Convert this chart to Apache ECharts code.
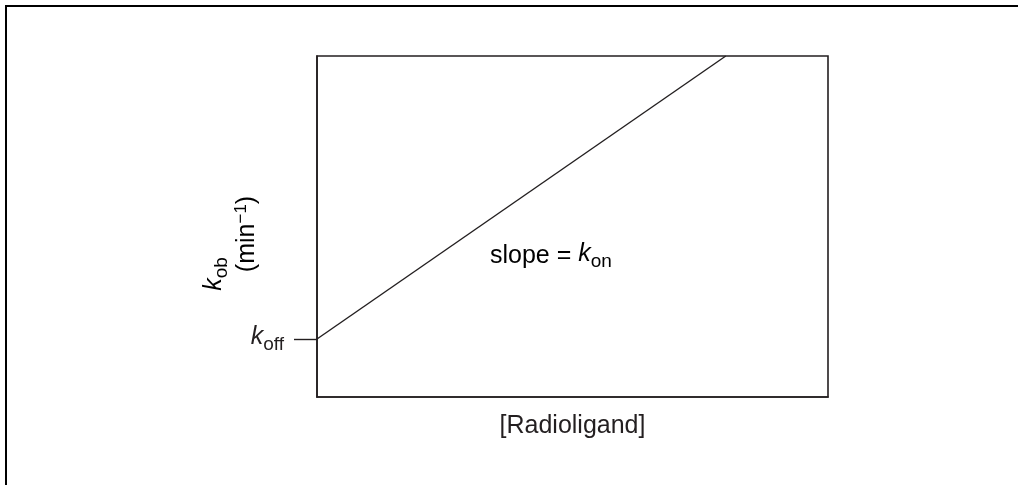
<!DOCTYPE html>
<html>
<head>
<meta charset="utf-8">
<script src="https://cdn.jsdelivr.net/npm/echarts@6/dist/echarts.min.js"></script>
<style>
  html, body { margin: 0; padding: 0; background: #fff; }
  #main { width: 1018px; height: 485px; }
</style>
</head>
<body>
<div id="main"></div>
<script>
// schematic: k_ob vs [Radioligand], straight line with intercept k_off
var lineX = [0, 80];
var lineY = [17, 100];
var koffValue = [17];
var axisMin = 0;
var axisMax = 100;

var ink = '#231f20';
var font = 'Liberation Sans, Arial, Helvetica, sans-serif';

var chart = echarts.init(document.getElementById('main'));

var lineData = [];
for (var i = 0; i < lineX.length; i++) {
    lineData.push([lineX[i], lineY[i]]);
}

// rich text pieces for italic k with subscripts
var richParts = {
    k: { fontStyle: 'italic', fontSize: 25, lineHeight: 25, fontFamily: font, color: ink, padding: [0, 0, 4, 0] },
    s: { fontSize: 19, lineHeight: 19, fontFamily: font, color: ink, padding: [12, 0, 0, 0] },
    n: { fontSize: 25, lineHeight: 25, fontFamily: font, color: ink },
    p: { fontSize: 17, lineHeight: 17, fontFamily: font, color: ink, padding: [0, 0, 12, 0] }
};

var option = {
    animation: false,
    backgroundColor: '#fff',
    grid: {
        left: 317,
        top: 56,
        right: 190,
        bottom: 88,
        show: true,
        borderColor: ink,
        borderWidth: 1.6
    },
    xAxis: {
        type: 'value',
        min: axisMin,
        max: axisMax,
        axisLine: { show: true, onZero: false, lineStyle: { color: ink, width: 1.6 } },
        axisTick: { show: false },
        axisLabel: { show: false },
        splitLine: { show: false },
        name: '[Radioligand]',
        nameLocation: 'middle',
        nameGap: 17,
        nameTextStyle: { fontSize: 25, fontFamily: font, color: ink }
    },
    yAxis: {
        type: 'value',
        min: axisMin,
        max: axisMax,
        axisLine: { show: true, onZero: false, lineStyle: { color: ink, width: 1.6 } },
        axisTick: {
            show: true,
            customValues: koffValue,
            length: 23,
            lineStyle: { color: ink, width: 1.4 }
        },
        axisLabel: {
            show: true,
            customValues: koffValue,
            margin: 33,
            formatter: function () { return '{k|k}{s|off}'; },
            rich: richParts
        },
        splitLine: { show: false }
    },
    graphic: [
        {
            type: 'rect',
            silent: true,
            shape: { x: 6, y: 6, width: 1100, height: 600 },
            style: { fill: 'none', stroke: '#000', lineWidth: 2 }
        },
        {
            type: 'text',
            x: 216, y: 274,
            rotation: Math.PI / 2,
            style: { text: '{k|k}{s|ob}', rich: richParts, align: 'center', verticalAlign: 'middle' }
        },
        {
            type: 'text',
            x: 247, y: 234,
            rotation: Math.PI / 2,
            style: { text: '{n|(min}{p|\u22121}{n|)}', rich: richParts, align: 'center', verticalAlign: 'middle' }
        },
        {
            type: 'text',
            x: 490, y: 256,
            style: { text: '{n|slope = }{k|k}{s|on}', rich: richParts, align: 'left', verticalAlign: 'middle' }
        }
    ],
    series: [
        {
            type: 'line',
            data: lineData,
            symbol: 'none',
            lineStyle: { color: ink, width: 1.4 }
        }
    ]
};

chart.setOption(option);
</script>
</body>
</html>
